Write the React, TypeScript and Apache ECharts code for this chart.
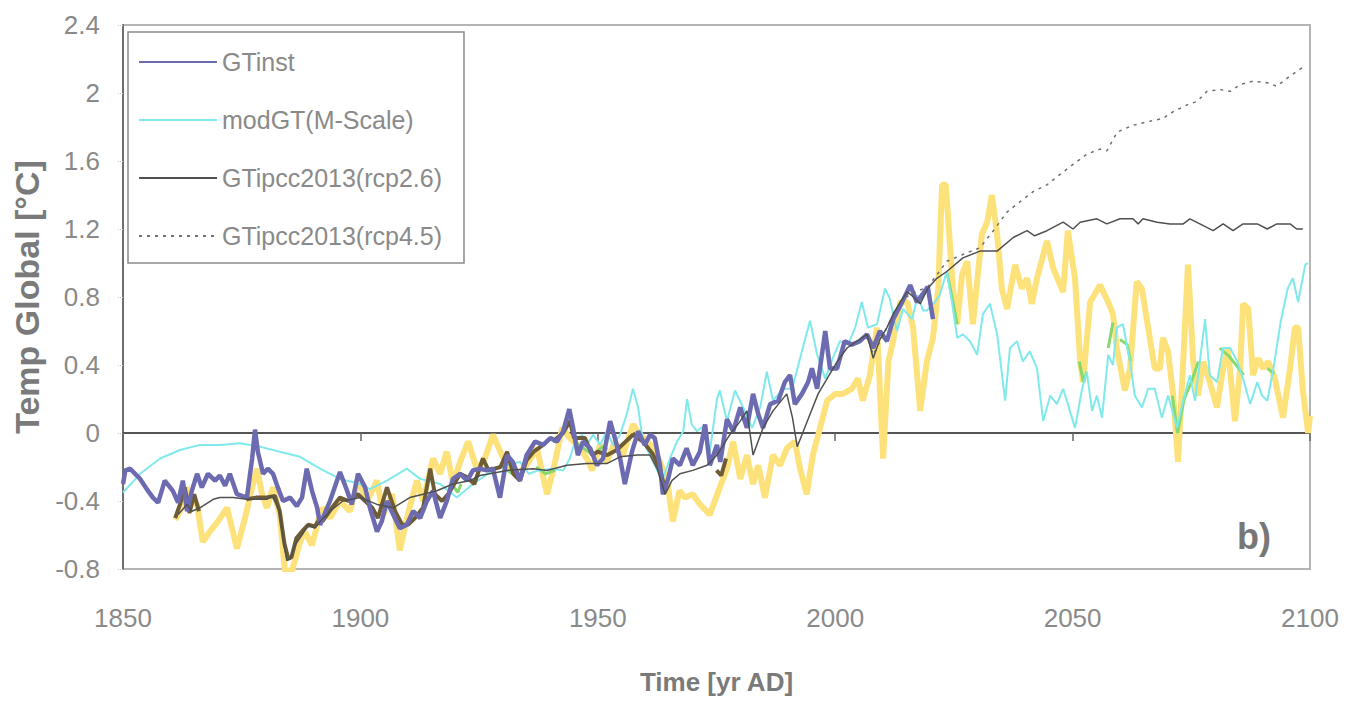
import React, { useEffect, useRef } from "react";
import * as echarts from "echarts";

type P = [number, number | null];

const seriesNames = ["GTinst", "modGT(M-Scale)", "GTipcc2013(rcp2.6)", "GTipcc2013(rcp4.5)"];
const xAxisTitle = "Time [yr AD]";
const yAxisTitle = "Temp Global [°C]";
const panelLabel = "b)";

const gtInst: P[] = [
  [1850.0,-0.30],[1850.5,-0.22],[1851.5,-0.21],[1853.6,-0.27],[1855,-0.33],[1856.3,-0.38],[1857.4,-0.41],[1858.8,-0.28],[1860.5,-0.34],[1861.6,-0.41],[1862.6,-0.28],[1863.5,-0.46],[1864.5,-0.34],[1865.6,-0.24],[1866.6,-0.32],[1867.9,-0.24],[1869.4,-0.28],[1870.4,-0.25],[1871.5,-0.31],[1872.5,-0.24],[1874,-0.36],[1876.1,-0.38],[1877.2,-0.15],[1877.8,0.02],[1878.4,-0.11],[1879.5,-0.24],[1880.5,-0.21],[1881.6,-0.24],[1882.6,-0.32],[1883.7,-0.40],[1885.2,-0.38],[1886.6,-0.43],[1887.7,-0.38],[1888.7,-0.21],[1889.8,-0.34],[1890.9,-0.44],[1891.5,-0.54],[1893.6,-0.40],[1895.7,-0.23],[1897.2,-0.34],[1898.2,-0.42],[1899.5,-0.24],[1901,-0.32],[1902,-0.44],[1903.5,-0.58],[1904.5,-0.52],[1905.6,-0.40],[1906.9,-0.48],[1908.3,-0.56],[1909.8,-0.54],[1911.1,-0.46],[1912.6,-0.50],[1914,-0.40],[1915.3,-0.34],[1916.8,-0.50],[1918.2,-0.40],[1919.5,-0.27],[1921,-0.24],[1922.5,-0.28],[1923.7,-0.22],[1925.2,-0.21],[1926.7,-0.22],[1927.9,-0.21],[1929.4,-0.38],[1930.9,-0.13],[1932.1,-0.17],[1933.6,-0.28],[1935,-0.13],[1936.8,-0.05],[1938.5,-0.07],[1940,-0.03],[1941.4,-0.05],[1942.7,0.01],[1944,0.14],[1944.8,0.03],[1945.8,-0.13],[1946.9,-0.05],[1948.4,-0.09],[1949.8,-0.19],[1951.1,-0.15],[1952.6,0.07],[1953.6,-0.03],[1954.7,-0.15],[1955.7,-0.30],[1957.2,-0.11],[1958.5,0.01],[1959.9,-0.07],[1961,-0.01],[1962,-0.03],[1963.1,-0.19],[1963.7,-0.36],[1964.8,-0.27],[1965.8,-0.15],[1967.3,-0.19],[1968.7,-0.09],[1970,-0.19],[1971.5,-0.11],[1972.6,0.05],[1973.6,-0.19],[1975.1,-0.07],[1975.8,-0.17],[1977.2,0.08],[1978.5,0.01],[1980,0.15],[1981.4,0.03],[1982.7,0.23],[1983.8,0.11],[1984.8,0.03],[1986.3,0.17],[1988,0.19],[1989.4,0.30],[1990.5,0.34],[1991.5,0.17],[1993,0.23],[1994.3,0.30],[1995.1,0.38],[1996.2,0.26],[1997.9,0.60],[1998.9,0.38],[2000.4,0.38],[2002,0.54],[2003.5,0.52],[2005.2,0.54],[2006.7,0.58],[2008,0.50],[2009.4,0.60],[2010.9,0.54],[2012.2,0.67],[2014.1,0.77],[2015.8,0.87],[2017.2,0.77],[2018.5,0.82],[2019.5,0.86],[2020.6,0.67]
];

const modGT: P[] = [
  [1850,-0.35],[1853.6,-0.24],[1857.8,-0.15],[1862,-0.10],[1866.2,-0.07],[1870.4,-0.07],[1874.6,-0.06],[1878.8,-0.08],[1883,-0.11],[1887.3,-0.14],[1891.5,-0.21],[1895.7,-0.27],[1899.9,-0.30],[1902,-0.33],[1905.6,-0.28],[1909.8,-0.21],[1912.6,-0.27],[1916.8,-0.30],[1920.3,-0.38],[1923.7,-0.30],[1927.9,-0.22],[1930.9,-0.19],[1933.6,-0.17],[1935.5,-0.24],[1937.5,-0.22],[1940.6,-0.21],[1942.7,-0.22],[1944.1,-0.15],[1945.2,-0.05],[1946.7,-0.01],[1947.7,-0.07],[1949,-0.01],[1950.5,-0.07],[1951.9,0.01],[1953.2,-0.07],[1954.7,-0.01],[1956.1,0.11],[1957.4,0.26],[1958.5,0.15],[1959.5,-0.05],[1961,-0.13],[1962.5,-0.22],[1963.7,-0.27],[1965.2,-0.15],[1966.7,-0.05],[1968,0.01],[1968.8,0.20],[1969.8,0.05],[1970.9,0.01],[1972.2,0.04],[1973.6,-0.11],[1975.1,0.20],[1975.7,0.25],[1977.2,0.07],[1978.9,0.25],[1980.6,0.15],[1982.5,0.03],[1984.2,0.15],[1985.6,0.36],[1986.9,0.19],[1989,0.26],[1990.9,0.26],[1992.6,0.44],[1994.7,0.66],[1996.2,0.46],[1997.9,0.32],[1999.5,0.44],[2001,0.54],[2002.7,0.52],[2004.2,0.62],[2005.6,0.77],[2006.9,0.62],[2008.8,0.64],[2010.5,0.85],[2011.5,0.79],[2013,0.60],[2014.3,0.73],[2016.2,0.67],[2017.4,0.81],[2018.5,0.72],[2019.3,0.72],[2021,0.77],[2022,0.81],[2023.5,0.95],[2024.6,0.77],[2025.7,0.56],[2026.9,0.58],[2028.4,0.54],[2029.9,0.46],[2031.1,0.70],[2032.6,0.76],[2034.1,0.58],[2035.8,0.19],[2036.8,0.50],[2038.3,0.54],[2039.5,0.42],[2041,0.48],[2042.5,0.38],[2043.8,0.07],[2045.3,0.22],[2046.7,0.17],[2048,0.26],[2049,0.17],[2050.5,0.03],[2052,0.26],[2053,0.36],[2054.1,0.13],[2055.1,0.22],[2056.2,0.09],[2057.5,0.46],[2058.5,0.40],[2059.3,0.62],[2060.6,0.64],[2062.1,0.42],[2063.1,0.22],[2064.6,0.15],[2065.9,0.26],[2067.3,0.26],[2068.8,0.09],[2070.1,0.22],[2072,0.03],[2073.3,0.19],[2074.7,0.34],[2075.8,0.19],[2076.8,0.42],[2077.9,0.67],[2078.9,0.34],[2080.4,0.30],[2081.7,0.50],[2083.2,0.50],[2084.7,0.42],[2085.9,0.32],[2087.4,0.17],[2088.9,0.30],[2089.9,0.22],[2091,0.19],[2092.3,0.38],[2093.8,0.65],[2095.3,0.85],[2096.4,0.91],[2097.5,0.77],[2099,0.99],[2099.6,1.0]
];

const rcp26: P[] = [
  [1861.6,-0.48],[1863.5,-0.42],[1864.5,-0.46],[1866.2,-0.44],[1869,-0.39],[1870.4,-0.38],[1873.2,-0.38],[1876.1,-0.39],[1880.3,-0.39],[1881.4,-0.37],[1883,-0.46],[1883.7,-0.62],[1884.5,-0.75],[1885.2,-0.74],[1886.2,-0.66],[1887.7,-0.60],[1889,-0.54],[1890.4,-0.56],[1891.5,-0.52],[1893.6,-0.46],[1896.3,-0.40],[1900,-0.38],[1903.5,-0.42],[1906.9,-0.44],[1910.4,-0.38],[1913.2,-0.36],[1916.1,-0.34],[1919.5,-0.30],[1923.1,-0.28],[1925.2,-0.25],[1930.9,-0.22],[1936.4,-0.21],[1939.3,-0.22],[1943.5,-0.19],[1947.7,-0.18],[1951.9,-0.18],[1954.7,-0.14],[1958.3,-0.13],[1961,-0.13],[1962.5,-0.21],[1964.2,-0.36],[1965.6,-0.28],[1967.3,-0.24],[1970,-0.22],[1973,-0.19],[1975.1,-0.13],[1977.8,-0.01],[1980,0.07],[1981.4,0.13],[1982.7,-0.13],[1984.8,0.03],[1986.9,0.13],[1989.8,0.23],[1991,0.09],[1992,-0.08],[1993,-0.01],[1994.7,0.11],[1996.4,0.23],[1998.3,0.32],[2000.4,0.42],[2002.5,0.50],[2004.6,0.54],[2006.7,0.58],[2008,0.44],[2009.4,0.55],[2010.9,0.62],[2012.2,0.70],[2013.7,0.77],[2015.2,0.83],[2016.5,0.80],[2017.9,0.76],[2019.5,0.85],[2021.4,0.91],[2023.5,0.95],[2026.9,1.03],[2030.5,1.07],[2034.1,1.07],[2037.5,1.15],[2040.4,1.19],[2042,1.16],[2044.6,1.19],[2048,1.24],[2050.1,1.20],[2051.6,1.24],[2055.1,1.26],[2057.2,1.23],[2060,1.26],[2062.7,1.26],[2063.8,1.23],[2064.8,1.26],[2067.8,1.24],[2070.5,1.23],[2073.3,1.23],[2074.7,1.26],[2076.8,1.23],[2079.6,1.19],[2081.7,1.23],[2083.8,1.19],[2085.9,1.23],[2088.9,1.23],[2091,1.20],[2093,1.23],[2095.8,1.23],[2097.2,1.20],[2098.5,1.20]
];

const rcp45: P[] = [
  [2006.7,0.58],[2008,0.46],[2010.9,0.62],[2013.7,0.77],[2016,0.82],[2019.5,0.86],[2021.4,0.93],[2023.5,1.01],[2026.9,1.05],[2030.5,1.09],[2033.3,1.19],[2036.2,1.30],[2038.9,1.36],[2041.7,1.42],[2044.6,1.46],[2047.3,1.52],[2050.1,1.58],[2053,1.64],[2055.8,1.67],[2057.2,1.66],[2059.4,1.77],[2062.7,1.81],[2065.6,1.83],[2069,1.85],[2071.2,1.89],[2074.1,1.93],[2076.2,1.95],[2078.3,2.01],[2081.1,2.02],[2083.2,2.01],[2085.3,2.05],[2088,2.07],[2091,2.06],[2093,2.04],[2095.8,2.10],[2097.9,2.14],[2099,2.16]
];

const yellowRecon: P[] = [
  [1861,-0.51],[1862.4,-0.44],[1863.5,-0.32],[1864.5,-0.40],[1865.6,-0.42],[1866.8,-0.64],[1868.3,-0.58],[1870,-0.52],[1871.9,-0.44],[1874,-0.68],[1875.7,-0.50],[1877.2,-0.32],[1878.2,-0.21],[1879.3,-0.36],[1880.3,-0.44],[1881.6,-0.32],[1883,-0.48],[1884.1,-0.81],[1885.6,-0.81],[1887.3,-0.64],[1888.3,-0.58],[1889.8,-0.66],[1891.1,-0.52],[1892,-0.44],[1893.6,-0.50],[1895.7,-0.40],[1897.8,-0.46],[1899.5,-0.28],[1901.4,-0.40],[1903.5,-0.28],[1904.8,-0.48],[1906.7,-0.36],[1908.3,-0.69],[1909.8,-0.50],[1911.9,-0.28],[1913.2,-0.40],[1915.3,-0.15],[1916.8,-0.24],[1918.2,-0.11],[1919.5,-0.30],[1921,-0.17],[1922.7,-0.05],[1924.6,-0.22],[1926.2,-0.15],[1927.9,-0.01],[1929.8,-0.13],[1931.5,-0.21],[1933.2,-0.24],[1935,-0.19],[1937.2,-0.09],[1939.3,-0.36],[1940.6,-0.22],[1942.5,0.03],[1944.1,-0.03],[1945.8,-0.07],[1947.7,-0.15],[1948.8,-0.22],[1950.5,-0.07],[1951.9,-0.17],[1953.6,-0.05],[1955.3,-0.13],[1957.4,0.05],[1958.9,-0.01],[1960.4,-0.05],[1961.6,-0.09],[1963.1,-0.17],[1964.6,-0.28],[1965.8,-0.52],[1967.2,-0.34],[1968.4,-0.38],[1970,-0.36],[1971.5,-0.42],[1973.6,-0.48],[1975.7,-0.32],[1977.2,-0.21],[1978.5,-0.05],[1980,-0.27],[1981.4,-0.13],[1982.7,-0.30],[1983.8,-0.19],[1985.2,-0.38],[1986.9,-0.13],[1988.4,-0.19],[1989.8,-0.09],[1991.5,-0.05],[1992.6,-0.21],[1994,-0.36],[1995.3,-0.13],[1996.8,0.03],[1998.3,0.19],[2000,0.23],[2001.6,0.23],[2003.5,0.26],[2004.8,0.32],[2005.8,0.19],[2007.3,0.34],[2008.8,0.62],[2010.1,-0.15],[2011.2,0.42],[2012.2,0.54],[2013.7,0.77],[2015.2,0.77],[2016.4,0.62],[2017.9,0.13],[2019.3,0.42],[2020.6,0.56],[2021.7,0.85],[2022.5,1.46],[2023.3,1.46],[2024.8,0.85],[2025.7,0.64],[2026.7,0.93],[2027.8,1.01],[2029,0.64],[2030.9,1.17],[2032,1.24],[2033,1.40],[2034.1,1.17],[2035.1,0.85],[2036.2,0.73],[2037.9,0.99],[2039.3,0.85],[2040.4,0.91],[2041.4,0.76],[2042.5,0.91],[2044.6,1.13],[2045.9,0.97],[2048,0.83],[2049,1.19],[2050.5,0.91],[2051.6,0.42],[2052.2,0.30],[2053.7,0.77],[2055.8,0.87],[2057.5,0.77],[2058.5,0.70],[2059.3,0.50],[2061,0.25],[2062.1,0.38],[2063.5,0.89],[2064.6,0.85],[2065.9,0.62],[2067.3,0.38],[2068.4,0.38],[2069,0.56],[2070.1,0.48],[2071.2,0.22],[2072.2,-0.17],[2073.3,0.42],[2074.3,0.99],[2075.4,0.42],[2076.4,0.22],[2077.5,0.42],[2078.9,0.30],[2080.4,0.15],[2081.7,0.38],[2082.7,0.50],[2084.2,0.07],[2085.3,0.38],[2085.9,0.76],[2087,0.73],[2088,0.34],[2089.1,0.44],[2090.1,0.38],[2091.2,0.42],[2092.6,0.32],[2094.3,0.09],[2095.8,0.38],[2096.8,0.62],[2097.5,0.62],[2098.5,0.25],[2099.6,0.0],[2100,0.1]
];

const brownRecon: P[] = [
  [1861,-0.50],[1862,-0.42],[1863,-0.32],[1864,-0.47],[1865,-0.36],[1866,-0.46],[1866.5,null],
  [1876,-0.39],[1878,-0.38],[1880,-0.38],[1882,-0.37],[1883,-0.46],[1884,-0.65],[1884.8,-0.74],[1885.5,-0.73],[1886.5,-0.62],[1888,-0.57],[1889,-0.54],[1890.4,-0.55],[1891.5,-0.50],[1892,-0.52],[1894,-0.44],[1895.7,-0.38],[1897.5,-0.40],[1899.5,-0.36],[1901,-0.40],[1902.5,-0.44],[1903.7,-0.50],[1905.6,-0.32],[1907.3,-0.46],[1908.8,-0.54],[1910,-0.54],[1911.5,-0.50],[1913.2,-0.44],[1914.7,-0.21],[1915.7,-0.36],[1917.2,-0.40],[1918.5,-0.36],[1921,-0.24],[1922.5,-0.26],[1924,-0.30],[1925.8,-0.15],[1927,-0.22],[1929.5,-0.20],[1930.9,-0.11],[1932.2,-0.24],[1933.6,-0.28],[1935,-0.16],[1936.5,-0.11],[1938.5,-0.07],[1939,null],
  [1940.5,-0.05],[1942.7,0.0],[1944.1,0.07],[1945,-0.03],[1947.3,-0.03],[1948.8,-0.13],[1950,-0.11],[1952,-0.13],[1954,-0.10],[1957.4,-0.01],[1959.5,-0.05],[1961.5,-0.12],[1963.1,-0.21],[1964.2,-0.34],[1964.5,null],
  [1975,-0.22],[1976,-0.25],[1977,-0.15]
];

const greenRecon: P[] = [
  [1919.3,-0.30],[1920.5,-0.35],[1921.2,-0.30],[1922,null],
  [1929.5,-0.19],[1931,-0.22],[1932,-0.24],[1933,null],
  [1937,-0.20],[1939,-0.24],[1941,-0.22],[1942,null],
  [1945,-0.05],[1947,-0.09],[1949,-0.13],[1951,-0.08],[1952,-0.10],[1953,null],
  [1962,-0.17],[1963.5,-0.24],[1964,null],
  [2023.5,0.95],[2024.6,0.80],[2025.7,0.64],[2026,null],
  [2051.4,0.42],[2052.3,0.30],[2053,0.36],[2054,null],
  [2057.5,0.50],[2058.5,0.65],[2059,null],
  [2060,0.55],[2061.5,0.52],[2062.2,0.42],[2063,null],
  [2071,0.22],[2072.1,0.0],[2073.5,0.20],[2075,0.30],[2076.5,0.42],[2077,null],
  [2081,0.50],[2083,0.45],[2085,0.38],[2086,0.34],[2087,null],
  [2091,0.38],[2092.5,0.35]
];

const toData = (arr: P[]) => arr.map(([x, y]) => [x, y === null ? "-" : y]);

const FONT = "'Liberation Sans', Arial, sans-serif";

export default function App() {
  const ref = useRef<HTMLDivElement>(null);
  useEffect(() => {
    if (!ref.current) return;
    const chart = echarts.init(ref.current, null, { renderer: "svg" });
    const line = (name: string, data: P[], color: string, width: number, extra: any = {}) => ({
      name,
      type: "line",
      data: toData(data),
      symbol: "none",
      showSymbol: false,
      connectNulls: false,
      lineStyle: { color, width, ...(extra.lineStyle || {}) },
      itemStyle: { color },
      silent: true,
    });
    chart.setOption({
      animation: false,
      backgroundColor: "#ffffff",
      textStyle: { fontFamily: FONT },
      grid: {
        left: 123,
        right: 42,
        top: 25,
        bottom: 132,
        outerBoundsMode: "none",
        containLabel: false,
        show: true,
        borderColor: "#b4b4b4",
        borderWidth: 2,
        backgroundColor: "transparent",
      },
      legend: {
        data: seriesNames,
        orient: "vertical",
        left: 128,
        top: 32,
        padding: [16, 22, 13, 10],
        itemWidth: 78,
        itemHeight: 28,
        itemGap: 30,
        backgroundColor: "#ffffff",
        borderColor: "#8a8a8a",
        borderWidth: 1.5,
        itemStyle: { opacity: 0 },
        textStyle: { fontSize: 25, color: "#8a8a8a", fontFamily: FONT, lineHeight: 28 },
        selectedMode: false,
      },
      xAxis: {
        type: "value",
        min: 1850,
        max: 2100,
        interval: 50,
        name: xAxisTitle,
        nameLocation: "middle",
        nameGap: 100,
        nameTextStyle: { fontSize: 26, fontWeight: "bold", color: "#7a7a7a", fontFamily: FONT },
        axisLine: { onZero: true, lineStyle: { color: "#555555", width: 2 } },
        axisTick: { show: true, length: 8, lineStyle: { color: "#666666", width: 1.5 } },
        axisLabel: {
          margin: 36,
          fontSize: 26,
          color: "#8a8a8a",
          fontFamily: FONT,
          formatter: (v: number) => String(v),
        },
        splitLine: { show: false },
      },
      yAxis: {
        type: "value",
        min: -0.8,
        max: 2.4,
        interval: 0.4,
        name: yAxisTitle,
        nameLocation: "middle",
        nameGap: 74,
        nameTextStyle: { fontSize: 34, fontWeight: "bold", color: "#7a7a7a", fontFamily: FONT },
        axisLine: { onZero: false, lineStyle: { color: "#6e6e6e", width: 2 } },
        axisTick: { show: true, length: 6, lineStyle: { color: "#c8c8c8", type: "dotted" } },
        axisLabel: {
          margin: 23,
          fontSize: 26,
          color: "#8a8a8a",
          fontFamily: FONT,
          formatter: (v: number) => String(Math.round(v * 10) / 10),
        },
        splitLine: { show: false },
      },
      graphic: [
        {
          type: "text",
          left: 1237,
          top: 518,
          style: { text: panelLabel, fontSize: 36, fontWeight: "bold", fill: "#777777", fontFamily: FONT },
          silent: true,
        },
      ],
      series: [
        line("yellowRecon", yellowRecon, "#fde27c", 6),
        line("greenRecon", greenRecon, "#86d96e", 3),
        line(seriesNames[1], modGT, "#7fe9ec", 2),
        line("brownRecon", brownRecon, "#6e5c36", 4),
        line(seriesNames[0], gtInst, "#6c6ab0", 4.5),
        line(seriesNames[3], rcp45, "#6f6f6f", 1.5, { lineStyle: { type: [3, 5] } }),
        line(seriesNames[2], rcp26, "#505050", 1.5),
      ],
    });
    return () => chart.dispose();
  }, []);
  return (
    <div
      ref={ref}
      style={{ position: "fixed", left: 0, top: 0, width: 1352, height: 701, background: "#fff" }}
    />
  );
}
